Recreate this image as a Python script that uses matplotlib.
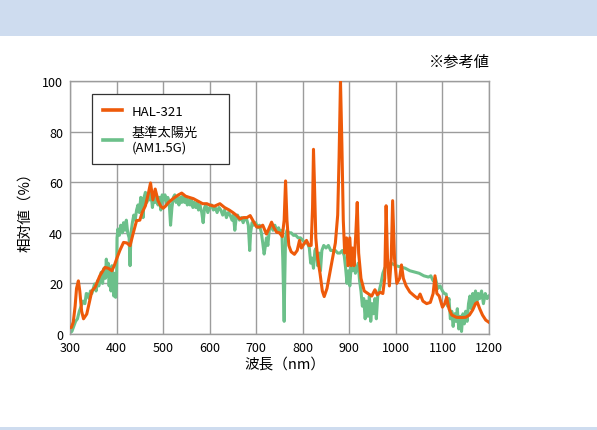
"""Relative spectrum of HAL-321 vs. reference sunlight (AM1.5G)."""
import matplotlib
matplotlib.use("Agg")
import matplotlib.pyplot as plt
from matplotlib.patches import Rectangle

FONT = ["Noto Sans CJK JP", "DejaVu Sans"]
plt.rcParams["font.family"] = FONT

# --- HAL-321 (orange) ---------------------------------------------------------
hal_nm = [300, 303, 307, 311, 314, 318, 321, 325, 329, 336, 341, 347, 354, 364,
          375, 382, 390, 395, 400, 407, 415, 422, 429, 436, 443, 450, 455, 462,
          468, 473, 478, 483, 489, 495, 500, 505, 511, 518, 525, 533, 540, 548,
          556, 565, 575, 585, 594, 600, 610, 622, 632, 642, 650, 657, 665, 672,
          680, 687, 694, 701, 708, 714, 722, 728, 733, 738, 744, 750, 756, 760,
          763, 766, 770, 775, 782, 788, 793, 797, 802, 808, 813, 818, 821, 823,
          825, 828, 832, 837, 842, 846, 852, 858, 864, 870, 875, 878, 881, 884,
          887, 890, 894, 897, 901, 904, 907, 910, 914, 917, 920, 925, 932, 940,
          948, 955, 960, 966, 972, 976, 979, 982, 986, 990, 993, 997, 1002, 1008,
          1012, 1016, 1022, 1030, 1040, 1047, 1052, 1058, 1066, 1074, 1080, 1084,
          1088, 1093, 1100, 1105, 1109, 1114, 1120, 1130, 1140, 1150, 1158, 1165,
          1171, 1175, 1180, 1186, 1193, 1200]
hal_val = [2.5, 2.6, 4.7, 11, 18, 21, 17, 9, 6, 7.9, 12, 17, 18.5, 23,
           26.3, 26, 25, 27, 29.6, 33, 36.2, 36, 34.9, 40, 44.8, 45, 48, 50.7,
           55.3, 59.7, 53, 57.3, 52.7, 50.5, 49.7, 50.5, 51.9, 53, 54, 55, 55.7, 54.5,
           54, 53.5, 52.5, 51.5, 51.5, 51, 50.5, 51.5, 50, 49, 48, 47, 45.5, 46,
           46, 46.8, 44.5, 42.3, 42.3, 43, 39.5, 42, 44.2, 42, 40.2, 40, 38.5, 45,
           60.5, 45, 35, 32.5, 31.5, 33, 37, 34, 35.5, 37, 35, 35, 50, 73,
           60, 38, 30, 24, 17, 14.8, 18, 24, 30, 36, 47, 70, 100, 75,
           45, 32, 38, 27, 38, 27, 34, 27, 40, 52, 32, 22, 17, 16,
           15, 17.5, 15.5, 16.5, 16, 22, 50.7, 30, 19, 30, 52.7, 30, 20, 22,
           27.3, 22, 19, 16.6, 15, 14, 15.8, 13, 12, 12.5, 16, 23,
           16, 15, 10.6, 12, 14.5, 10, 7.5, 6.6, 6.5, 6.6, 7.5, 9.5,
           12, 12.5, 10, 7.5, 5.5, 4.6]

# --- reference sunlight AM1.5G (green) ----------------------------------------
am_nm = [300, 304, 308, 312, 316, 320, 324, 328, 332, 335, 338, 341, 344, 347,
         350, 353, 356, 359, 362, 365, 367, 370, 373, 376, 378, 380, 382, 384,
         386, 388, 390, 392, 394, 396, 398, 400, 401, 403, 406, 409, 412, 415,
         418, 421, 424, 427, 429, 431, 434, 437, 440, 443, 446, 449, 452, 455,
         457, 459, 462, 465, 468, 471, 474, 477, 480, 483, 486, 489, 492, 495,
         498, 501, 504, 507, 510, 513, 516, 519, 522, 525, 528, 531, 534, 537,
         540, 543, 546, 549, 552, 555, 558, 561, 564, 567, 570, 573, 576, 579,
         583, 586, 589, 592, 596, 600, 604, 608, 612, 616, 620, 624, 628, 632,
         636, 640, 644, 648, 651, 654, 657, 660, 664, 668, 672, 676, 680, 683,
         686, 688, 691, 695, 699, 703, 707, 711, 714, 717, 719, 722, 725, 728,
         732, 736, 740, 744, 748, 752, 755, 757, 759, 760, 761, 763, 766, 770,
         775, 780, 785, 790, 795, 800, 805, 810, 814, 817, 820, 823, 826, 829,
         832, 835, 838, 841, 845, 850, 855, 860, 865, 870, 875, 880, 885, 889,
         892, 895, 898, 901, 904, 907, 910, 913, 916, 919, 922, 925, 928, 931,
         934, 937, 940, 943, 946, 949, 952, 955, 958, 961, 964, 968, 972, 976,
         980, 985, 990, 995, 1000, 1010, 1020, 1030, 1040, 1050, 1060, 1070, 1075, 1080,
         1085, 1090, 1095, 1100, 1104, 1108, 1111, 1114, 1117, 1120, 1123, 1126, 1129, 1132,
         1135, 1138, 1141, 1144, 1147, 1150, 1153, 1156, 1159, 1162, 1165, 1168, 1171, 1174,
         1177, 1180, 1184, 1188, 1192, 1196, 1200]
am_val = [0.5, 1, 3, 5, 6, 9, 11, 13, 12, 16, 15.8, 14, 17, 16,
          18, 19.8, 17, 21, 19, 22, 24.4, 20, 26, 22, 29.6, 23, 28, 19,
          25, 17, 27, 20, 15, 24, 14.5, 20, 38, 41.5, 39, 43, 40, 44,
          41, 45, 40, 38, 27, 40, 44, 47, 45, 49, 51, 48, 54, 52,
          46, 54, 56, 52, 55, 53, 56, 50, 54, 52, 55, 51, 54, 49,
          55, 53, 55, 51, 54, 52, 43, 50, 54, 55, 52, 54, 51, 54,
          52, 55, 52, 54, 51, 53, 51, 53, 50, 52, 50, 52, 49, 51,
          48, 44, 50, 51, 48, 50, 51, 49, 50, 48, 50, 49, 47, 49,
          46, 48, 47, 45, 47, 41, 46, 47, 45, 46, 44, 46, 45, 43,
          33, 40, 44, 43, 44, 42, 43, 40, 36, 31.6, 34, 38, 35, 41,
          43, 41, 43, 41, 42, 40, 41, 30, 12, 5, 18, 38, 41, 40,
          40, 39, 39, 38, 38, 37, 36, 36, 34, 28, 30, 26, 33, 34,
          27, 32, 25, 33, 35, 34, 35, 33, 33, 33, 32, 32, 33, 31,
          26, 20, 25, 19, 27, 25, 29, 24, 26, 28, 21, 17, 11, 14,
          6, 13, 7, 15, 5, 12, 8, 14, 6, 15, 17, 20, 24, 26,
          27, 27.5, 28, 27.5, 27, 26.5, 26, 25, 24.5, 24, 23, 22.5, 23, 21,
          22, 18, 19, 17, 16, 15.8, 11, 14, 6, 9, 3, 8, 5, 10,
          2, 7, 1, 8, 4, 9, 5, 12, 15, 10, 16, 12, 17, 13,
          16, 14, 17, 12, 16, 14, 15]

x_ticks = [300, 400, 500, 600, 700, 800, 900, 1000, 1100, 1200]
y_ticks = [0, 20, 40, 60, 80, 100]

W, H = 597, 431
fig = plt.figure(figsize=(W / 100, H / 100), dpi=100)

# page decoration: blue header band and thin bottom strip
band = "#cedcef"
fig.patches.append(Rectangle((0, 1 - 37 / H), 1, 37 / H, transform=fig.transFigure,
                             facecolor=band, edgecolor="none", zorder=0))
fig.patches.append(Rectangle((0, 0), 1, 3 / H, transform=fig.transFigure,
                             facecolor=band, edgecolor="none", zorder=0))

ax = fig.add_axes([70 / W, 1 - 335 / H, (489 - 70) / W, (335 - 82) / H])

ax.plot(am_nm, am_val, color="#6cc08a", lw=2.2, label="基準太陽光\n(AM1.5G)", zorder=2)
ax.plot(hal_nm, hal_val, color="#ee5a0a", lw=2.2, label="HAL-321", zorder=3)

ax.set_xlim(300, 1200)
ax.set_ylim(0, 100)
ax.set_xticks(x_ticks)
ax.set_yticks(y_ticks)
ax.grid(True, color="#9c9c9c", lw=1.0)
ax.set_axisbelow(True)
for sp in ax.spines.values():
    sp.set_color("#9c9c9c")
    sp.set_linewidth(1.0)
ax.tick_params(length=0, labelsize=9, colors="black")
ax.tick_params(axis="x", pad=5)
ax.tick_params(axis="y", pad=5)

ax.set_xlabel("波長（nm）", fontsize=10.5, labelpad=4)
ax.xaxis.set_label_coords((285 - 70) / 419, -0.09)
ax.set_ylabel("相対値（%）", fontsize=10.5, labelpad=7)

# legend box spans px 92..229 horizontally in the reference
handles, labels = ax.get_legend_handles_labels()
leg = ax.legend(handles[::-1], labels[::-1], loc="upper left", mode="expand",
                bbox_to_anchor=((92 - 70) / 419, (335 - 95) / 253,
                                (229 - 92) / 419, 0.0),
                borderaxespad=0, fancybox=False, framealpha=1,
                edgecolor="#333333", fontsize=9.5, handlelength=1.5,
                handletextpad=0.7, borderpad=0.8, labelspacing=0.6)
leg.get_frame().set_linewidth(0.9)
for line in leg.get_lines():
    line.set_linewidth(2.6)

fig.text(490 / W, 1 - 62 / H, "※参考値", ha="right", va="center", fontsize=11)

fig.savefig("out.png", dpi=100)
